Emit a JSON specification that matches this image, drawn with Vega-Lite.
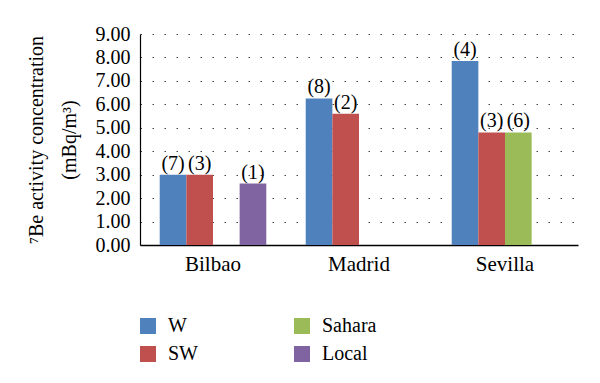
{
  "$schema": "https://vega.github.io/schema/vega-lite/v6.json",
  "width": 438,
  "height": 211,
  "autosize": {"type": "none"},
  "padding": {"left": 140, "top": 34, "right": 22, "bottom": 138},
  "background": "white",
  "config": {
    "view": {"stroke": null},
    "font": "Liberation Serif, Times New Roman, serif",
    "axis": {"labelFont": "Liberation Serif, Times New Roman, serif", "titleFont": "Liberation Serif, Times New Roman, serif"},
    "legend": {"labelFont": "Liberation Serif, Times New Roman, serif", "titleFont": "Liberation Serif, Times New Roman, serif"},
    "text": {"font": "Liberation Serif, Times New Roman, serif"}
  },
  "data": {
    "values": [
      {"city": "Bilbao", "type": "W", "value": 3.0, "n": "(7)"},
      {"city": "Bilbao", "type": "SW", "value": 3.0, "n": "(3)"},
      {"city": "Bilbao", "type": "Local", "value": 2.62, "n": "(1)"},
      {"city": "Madrid", "type": "W", "value": 6.25, "n": "(8)"},
      {"city": "Madrid", "type": "SW", "value": 5.6, "n": "(2)"},
      {"city": "Sevilla", "type": "W", "value": 7.85, "n": "(4)"},
      {"city": "Sevilla", "type": "SW", "value": 4.8, "n": "(3)"},
      {"city": "Sevilla", "type": "Sahara", "value": 4.8, "n": "(6)"}
    ]
  },
  "encoding": {
    "x": {
      "field": "city", "type": "nominal", "sort": ["Bilbao", "Madrid", "Sevilla"],
      "scale": {"paddingInner": 0.27, "paddingOuter": 0.135},
      "axis": {"title": null, "labelAngle": 0, "labelFontSize": 21, "labelColor": "#000", "labelPadding": 8, "ticks": false, "domainColor": "#000", "domainWidth": 1.5, "grid": false}
    },
    "xOffset": {"field": "type", "type": "nominal", "scale": {"domain": ["W", "SW", "Sahara", "Local"], "paddingInner": 0, "paddingOuter": 0}},
    "y": {
      "field": "value", "type": "quantitative",
      "scale": {"domain": [0, 9], "nice": false},
      "axis": {
        "title": ["⁷Be activity concentration", "(mBq/m³)"],
        "titleFontSize": 20, "titleFontWeight": "normal", "titleColor": "#000", "titleLineHeight": 33, "titlePadding": 16,
        "values": [0, 1, 2, 3, 4, 5, 6, 7, 8, 9], "format": ".2f",
        "labelFontSize": 20, "labelColor": "#000", "labelPadding": 10,
        "ticks": false, "domainColor": "#000", "domainWidth": 1.2,
        "grid": true, "gridColor": "#444", "gridDash": [1.5, 10.5], "gridWidth": 1.2
      }
    }
  },
  "layer": [
    {
      "mark": {"type": "bar"},
      "encoding": {
        "color": {
          "field": "type", "type": "nominal",
          "scale": {"domain": ["W", "Sahara", "SW", "Local"], "range": ["#4F81BD", "#9BBB59", "#C0504D", "#8064A2"]},
          "legend": {
            "title": null, "orient": "none", "legendX": -2, "legendY": 282,
            "columns": 2, "direction": "horizontal", "columnPadding": 94, "rowPadding": 8,
            "symbolType": "square", "symbolSize": 256, "symbolStrokeWidth": 0, "symbolOpacity": 1,
            "labelFontSize": 20, "labelColor": "#000", "labelOffset": 10
          }
        }
      }
    },
    {
      "mark": {"type": "text", "baseline": "bottom", "dy": -1, "fontSize": 20, "color": "#000"},
      "encoding": {"text": {"field": "n"}}
    }
  ]
}
